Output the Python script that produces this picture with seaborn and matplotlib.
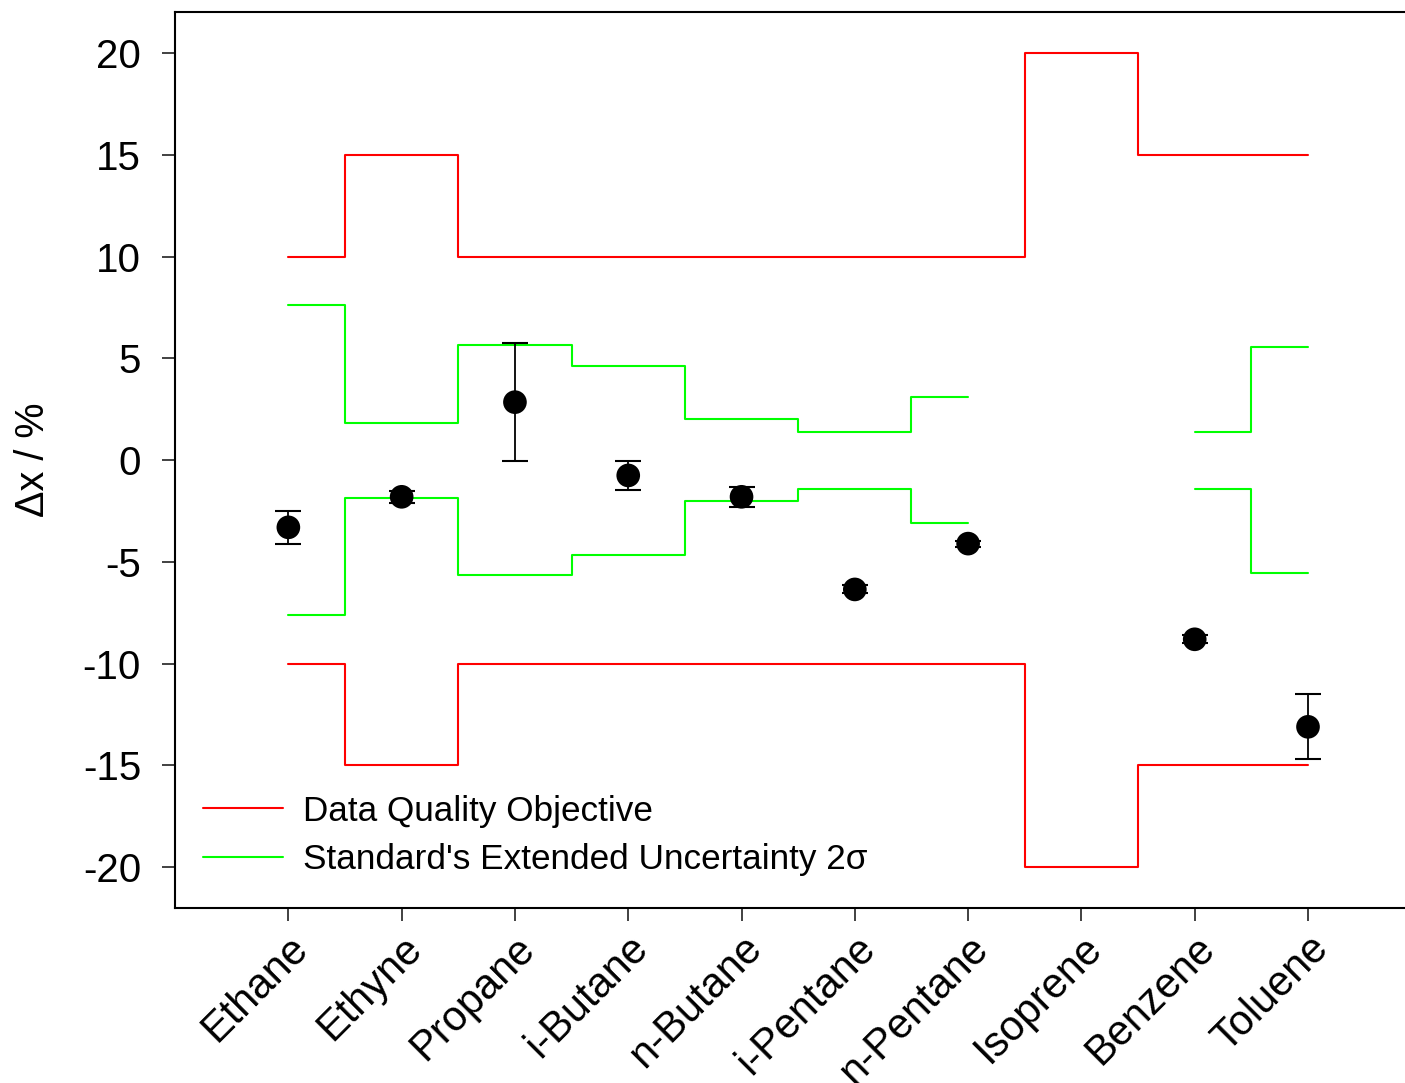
import numpy as np
import matplotlib
matplotlib.use("Agg")
import matplotlib.pyplot as plt
import seaborn as sns

# compounds and measured deviations
compounds = ["Ethane", "Ethyne", "Propane", "i-Butane", "n-Butane",
             "i-Pentane", "n-Pentane", "Isoprene", "Benzene", "Toluene"]
delta_x = [-3.3, -1.8, 2.85, -0.75, -1.8, -6.35, -4.1, np.nan, -8.8, -13.1]
delta_err = [0.8, 0.3, 2.9, 0.7, 0.5, 0.2, 0.15, np.nan, 0.2, 1.6]

# data quality objective (+/-) per compound
dqo = [10, 15, 10, 10, 10, 10, 10, 20, 15, 15]

# standard's extended uncertainty 2 sigma (+/-) per compound
std_unc = [7.6, 1.85, 5.65, 4.65, 2.0, 1.4, 3.1, np.nan, 1.4, 5.55]

yticks = [-20, -15, -10, -5, 0, 5, 10, 15, 20]

sns.set_style("ticks")
plt.rcParams["font.family"] = ["Liberation Sans", "DejaVu Sans"]
plt.rcParams["text.color"] = "black"
plt.rcParams["xtick.color"] = "black"
plt.rcParams["ytick.color"] = "black"
plt.rcParams["axes.labelcolor"] = "black"

fig = plt.figure(figsize=(14.05, 10.83), dpi=100)
ax = fig.add_axes([0.1246, 0.1616, 0.887, 0.827])

x = np.arange(len(compounds))
dqo = np.array(dqo, dtype=float)
std_unc = np.array(std_unc, dtype=float)


def step_runs(xs, ys, **kw):
    # draw each run of non-missing values as its own step line
    ok = ~np.isnan(ys)
    start = None
    first = True
    for i in range(len(ys) + 1):
        if i < len(ys) and ok[i]:
            if start is None:
                start = i
        elif start is not None:
            lab = kw.pop("label", None) if first else None
            ax.plot(xs[start:i], ys[start:i], drawstyle="steps-mid",
                    label=lab, **kw)
            first = False
            start = None


step_runs(x, dqo, color="#ff0000", lw=1.5, label="Data Quality Objective")
step_runs(x, -dqo, color="#ff0000", lw=1.5)
step_runs(x, std_unc, color="#00ff00", lw=1.5,
          label="Standard's Extended Uncertainty 2σ")
step_runs(x, -std_unc, color="#00ff00", lw=1.5)

ax.errorbar(x, delta_x, yerr=delta_err, fmt="none", ecolor="black",
            elinewidth=1.3, capsize=9.5, capthick=1.5, zorder=3)
sns.scatterplot(x=x, y=delta_x, ax=ax, color="black", s=290,
                edgecolor="none", zorder=4, legend=False)

ax.set_xlim(-1, 10)
ax.set_ylim(-22, 22)
ax.set_yticks(yticks)
ax.set_yticklabels([str(v) for v in yticks], fontsize=29)
ax.set_xticks(x)
ax.set_xticklabels(compounds, fontsize=30, rotation=45, ha="right",
                   rotation_mode="anchor")
ax.set_ylabel("Δx / %", fontsize=28.5, labelpad=22)

ax.tick_params(axis="y", direction="out", length=9.5, width=1.3,
               color="#333333", pad=15)
ax.tick_params(axis="x", direction="out", length=9.5, width=1.3,
               color="#333333", pad=5)
for sp in ax.spines.values():
    sp.set_linewidth(1.5)
    sp.set_color("black")

ax.legend(loc="lower left", frameon=False, fontsize=25.3, handlelength=2.28,
          handletextpad=0.57, labelspacing=0.45,
          bbox_to_anchor=(-0.003, 0.0))

fig.savefig("out.png", dpi=100)
